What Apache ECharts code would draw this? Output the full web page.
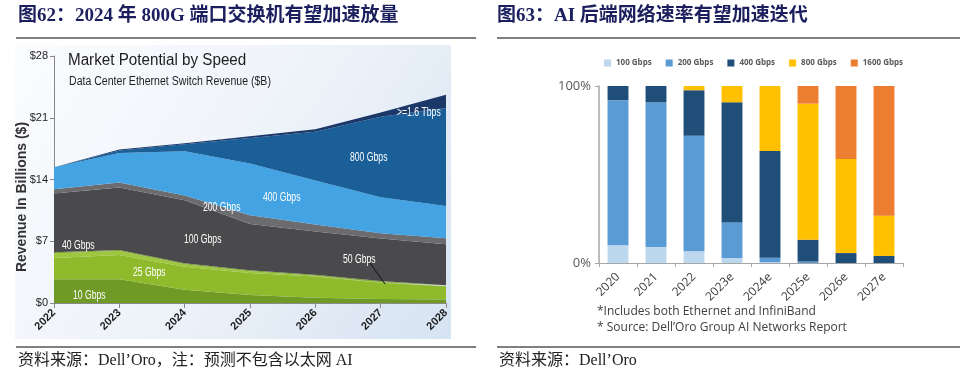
<!DOCTYPE html>
<html><head><meta charset="utf-8">
<script src="https://cdn.jsdelivr.net/npm/echarts@6/dist/echarts.min.js"></script>
<style>html,body{margin:0;padding:0;background:#fff}#c{width:970px;height:382px}</style>
</head><body><div id="c"></div>
<script>
// Left chart: Data Center Ethernet Switch Revenue ($B)
const years = ['2022','2023','2024','2025','2026','2027','2028'];
const g10  = [2.7, 2.7, 1.5, 0.9, 0.6, 0.45, 0.4];
const g25  = [2.4, 2.75, 2.6, 2.5, 2.4, 1.85, 1.5];
const g40  = [0.55, 0.45, 0.3, 0.2, 0.1, 0.05, 0.02];
const g50  = [0.1, 0.1, 0.1, 0.1, 0.1, 0.15, 0.08];
const g100 = [6.65, 7.1, 7.15, 5.25, 4.9, 4.8, 4.65];
const g200 = [0.5, 0.55, 0.55, 1.0, 0.8, 0.6, 0.7];
const g400 = [2.5, 3.35, 5.0, 5.85, 5.0, 4.1, 3.65];
const g800 = [0, 0.3, 0.8, 2.9, 5.5, 9.1, 11.1];
const g1600 = [0, 0.1, 0.1, 0.2, 0.3, 0.5, 1.5];

// Right chart: AI back-end network speed mix (%)
const cats = ['2020','2021','2022','2023e','2024e','2025e','2026e','2027e'];
const p100  = [10, 9, 6.6, 2.8, 0.5, 0, 0, 0];
const p200  = [82, 81.8, 65.3, 20.1, 2.5, 0.8, 0, 0];
const p400  = [8, 9.2, 25.7, 67.9, 60.3, 12.4, 5.6, 4];
const p800  = [0, 0, 2.4, 9.2, 36.7, 76.8, 53.2, 22.7];
const p1600 = [0, 0, 0, 0, 0, 10, 41.2, 73.3];

const chart = echarts.init(document.getElementById('c'), null, {renderer:'canvas'});
const serifCJK = '"Liberation Serif","Noto Sans CJK SC",serif';
const sans = '"Liberation Sans",Arial,sans-serif';

function area(name, data, color) {
  return {name, type:'line', stack:'rev', xAxisIndex:0, yAxisIndex:0, data,
    symbol:'none', smooth:false, lineStyle:{width:0}, areaStyle:{color, opacity:1}, itemStyle:{color}, z:2};
}
function bar(name, data, color) {
  return {name, type:'bar', stack:'pct', xAxisIndex:1, yAxisIndex:1, data,
    barWidth:'55%', itemStyle:{color}};
}
function ntxt(x, y, t, font, fill, sx) {
  return {type:'text', x:x, y:y, scaleX:sx, z:10,
    style:{text:t, x:0, y:0, fill:fill, font:font, textVerticalAlign:'top'}};
}
function wtxt(x, y, t) { return ntxt(x, y, t, '12px '+sans, '#fff', 0.72); }

chart.setOption({
  animation:false,
  backgroundColor:'#fff',
  graphic:[
    {type:'rect', shape:{x:15, y:45, width:436, height:294}, z:-10,
     style:{fill:new echarts.graphic.LinearGradient(0,0,1,1,[
       {offset:0,color:'#fbfcfe'},{offset:0.5,color:'#eef3f9'},{offset:1,color:'#d6e3f2'}])}},
    {type:'text', left:18, top:7, style:{text:'图62：2024 年 800G 端口交换机有望加速放量', fill:'#1c1f5e', font:'bold 19px '+serifCJK}},
    {type:'text', left:497, top:7, style:{text:'图63：AI 后端网络速率有望加速迭代', fill:'#1c1f5e', font:'bold 19px '+serifCJK}},
    {type:'line', shape:{x1:16,y1:38,x2:476,y2:38}, style:{stroke:'#000', lineWidth:1}},
    {type:'line', shape:{x1:497,y1:38,x2:960,y2:38}, style:{stroke:'#000', lineWidth:1}},
    {type:'line', shape:{x1:16,y1:347,x2:476,y2:347}, style:{stroke:'#000', lineWidth:1}},
    {type:'line', shape:{x1:497,y1:347,x2:960,y2:347}, style:{stroke:'#000', lineWidth:1}},
    {type:'text', left:18, top:353, style:{text:'资料来源：Dell’Oro，注：预测不包含以太网 AI', fill:'#222', font:'16px '+serifCJK}},
    {type:'text', left:499, top:353, style:{text:'资料来源：Dell’Oro', fill:'#222', font:'16px '+serifCJK}},
    ntxt(68, 53, 'Market Potential by Speed', '16px '+sans, '#1e1e1e', 0.95),
    ntxt(69, 76, 'Data Center Ethernet Switch Revenue ($B)', '12px '+sans, '#1e1e1e', 0.88),
    {type:'text', x:22, y:197, rotation:Math.PI/2, z:10,
     style:{text:'Revenue In Billions ($)', x:0, y:0, textAlign:'center', textVerticalAlign:'middle',
            fill:'#333', font:'bold 14px '+sans}},
    wtxt(62, 240, '40 Gbps'), wtxt(73, 290, '10 Gbps'), wtxt(133, 267, '25 Gbps'),
    wtxt(184, 234, '100 Gbps'), wtxt(203, 202, '200 Gbps'), wtxt(263, 192, '400 Gbps'),
    wtxt(350, 152, '800 Gbps'), wtxt(397, 107, '>=1.6 Tbps'), wtxt(343, 254, '50 Gbps'),
    {type:'line', shape:{x1:370,y1:263,x2:385,y2:284}, z:11, style:{stroke:'#111', lineWidth:1}},
    {type:'text', left:597, top:306, style:{text:'*Includes both Ethernet and InfiniBand', fill:'#404040', font:'12px "Open Sans",sans-serif'}},
    {type:'text', left:597, top:322, style:{text:'* Source: Dell’Oro Group AI Networks Report', fill:'#404040', font:'12px "Open Sans",sans-serif'}}
  ],
  legend:{
    data:['100 Gbps','200 Gbps','400 Gbps','800 Gbps','1600 Gbps'],
    left:599, top:54, icon:'rect', itemWidth:7, itemHeight:7, itemGap:14,
    textStyle:{fontSize:8, fontWeight:'bold', color:'#595959', fontFamily:'"Open Sans",sans-serif'}
  },
  grid:[
    {left:54, top:56, width:392, height:247},
    {left:599, top:86, width:304, height:177}
  ],
  xAxis:[
    {type:'category', gridIndex:0, data:years, boundaryGap:false,
     axisLine:{lineStyle:{color:'#8a8a8a'}}, axisTick:{show:true, length:5, lineStyle:{color:'#8a8a8a'}},
     axisLabel:{rotate:45, fontSize:11, fontWeight:'bold', color:'#1e1e1e', fontFamily:sans, margin:8}},
    {type:'category', gridIndex:1, data:cats,
     axisLine:{lineStyle:{color:'#a6a6a6', width:1}}, axisTick:{show:true, length:4, lineStyle:{color:'#a6a6a6'}},
     axisLabel:{rotate:45, fontSize:12, color:'#404040', fontFamily:'"Open Sans",sans-serif', margin:12}}
  ],
  yAxis:[
    {type:'value', gridIndex:0, min:0, max:28, interval:7,
     axisLine:{show:true, lineStyle:{color:'#8a8a8a'}}, axisTick:{show:true, length:4, lineStyle:{color:'#8a8a8a'}},
     splitLine:{show:false},
     axisLabel:{formatter:v=>'$'+v, fontSize:11, color:'#1e1e1e', fontFamily:sans, margin:6}},
    {type:'value', gridIndex:1, min:0, max:100, interval:100,
     axisLine:{show:true, lineStyle:{color:'#a6a6a6', width:1.5}}, axisTick:{show:true, length:4, lineStyle:{color:'#a6a6a6'}},
     splitLine:{show:false},
     axisLabel:{formatter:v=>v+'%', fontSize:13, color:'#595959', fontFamily:'"Open Sans",sans-serif', margin:8}}
  ],
  series:[
    area('10 Gbps L', g10, '#6f9a25'),
    area('25 Gbps L', g25, '#8fba2c'),
    area('40 Gbps L', g40, '#9ec63e'),
    area('50 Gbps L', g50, '#7ea52a'),
    area('100 Gbps L', g100, '#4a494c'),
    area('200 Gbps L', g200, '#6c6c6f'),
    area('400 Gbps L', g400, '#44a3e3'),
    area('800 Gbps L', g800, '#1a5f97'),
    area('1600 Gbps L', g1600, '#1b3869'),
    bar('100 Gbps', p100, '#bdd7ee'),
    bar('200 Gbps', p200, '#5b9bd5'),
    bar('400 Gbps', p400, '#1f4e79'),
    bar('800 Gbps', p800, '#ffc000'),
    bar('1600 Gbps', p1600, '#ed7d31')
  ]
});
</script></body></html>
